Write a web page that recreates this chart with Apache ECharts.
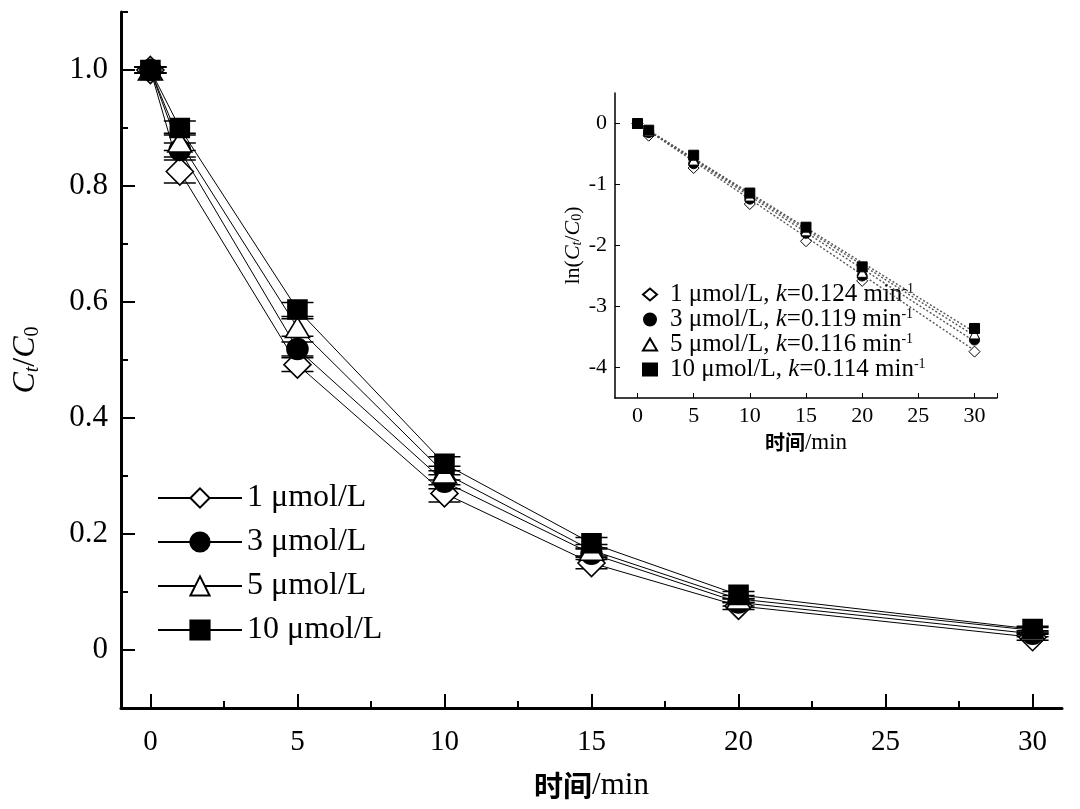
<!DOCTYPE html>
<html>
<head>
<meta charset="utf-8">
<script src="https://cdn.jsdelivr.net/npm/echarts@6/dist/echarts.min.js"></script>
<style>html,body{margin:0;padding:0;background:#fff}#c{width:1080px;height:809px}</style>
</head>
<body>
<div id="c"></div>
<script>
// ---- data ----
const times = [0, 1, 5, 10, 15, 20, 30];
const seriesNames = ['1 μmol/L', '3 μmol/L', '5 μmol/L', '10 μmol/L'];
const c1  = [1.0, 0.825, 0.492, 0.270, 0.150, 0.076, 0.022];
const c3  = [1.0, 0.862, 0.519, 0.290, 0.166, 0.082, 0.028];
const c5  = [1.0, 0.876, 0.556, 0.305, 0.172, 0.088, 0.034];
const c10 = [1.0, 0.900, 0.587, 0.321, 0.184, 0.095, 0.036];
const e1  = [0.005, 0.020, 0.012, 0.015, 0.010, 0.006, 0.005];
const e3  = [0.005, 0.012, 0.012, 0.012, 0.010, 0.006, 0.005];
const e5  = [0.005, 0.015, 0.015, 0.012, 0.010, 0.006, 0.005];
const e10 = [0.005, 0.012, 0.012, 0.012, 0.010, 0.006, 0.005];
// inset: ln(Ct/C0)
const ln1  = [0, -0.20, -0.73, -1.32, -1.93, -2.58, -3.74];
const ln3  = [0, -0.15, -0.66, -1.24, -1.80, -2.50, -3.55];
const ln5  = [0, -0.13, -0.60, -1.19, -1.76, -2.44, -3.45];
const ln10 = [0, -0.11, -0.52, -1.14, -1.70, -2.35, -3.36];
const fitX = [0, 30];
const fit1  = [0, -3.72];
const fit3  = [0, -3.57];
const fit5  = [0, -3.48];
const fit10 = [0, -3.42];
const kValues = ['0.124', '0.119', '0.116', '0.114'];
const concLabels = ['1 μmol/L', '3 μmol/L', '5 μmol/L', '10 μmol/L'];
// ticks
const xTicks = [0, 5, 10, 15, 20, 25, 30];
const xMinorTicks = [2.5, 7.5, 12.5, 17.5, 22.5, 27.5];
const yTicks = [0, 0.2, 0.4, 0.6, 0.8, 1.0];
const yMinorTicks = [0.1, 0.3, 0.5, 0.7, 0.9, 1.1];
const insetXTicks = [0, 5, 10, 15, 20, 25, 30, 32];
const insetXLabels = [0, 5, 10, 15, 20, 25, 30];
const insetYTicks = [0, -1, -2, -3, -4];

// ---- styling ----
const SERIF = 'Liberation Serif, Times New Roman, serif';
const CJK = 'Noto Sans CJK SC';
const markerDefs = [
  {symbol: 'diamond', size: [27, 27], fill: '#fff', isize: 11},
  {symbol: 'circle', size: 21, fill: '#000', isize: 10},
  {symbol: 'triangle', size: [24, 20], fill: '#fff', isize: 10},
  {symbol: 'rect', size: 19, fill: '#000', isize: 10}
];
const mainData = [c1, c3, c5, c10];
const errData = [e1, e3, e5, e10];
const lnData = [ln1, ln3, ln5, ln10];
const fitData = [fit1, fit3, fit5, fit10];

const series = [];
// error bars (main)
errData.forEach((errs, si) => {
  series.push({
    type: 'custom', xAxisIndex: 0, yAxisIndex: 0, silent: true, z: 3,
    data: times.map((t, i) => [t, mainData[si][i] - errs[i], mainData[si][i] + errs[i]]),
    renderItem: (params, api) => {
      const lo = api.coord([api.value(0), api.value(1)]);
      const hi = api.coord([api.value(0), api.value(2)]);
      const hw = 16;
      const st = {stroke: '#000', lineWidth: 1.5};
      return {type: 'group', children: [
        {type: 'line', shape: {x1: lo[0], y1: lo[1], x2: hi[0], y2: hi[1]}, style: st},
        {type: 'line', shape: {x1: lo[0] - hw, y1: lo[1], x2: lo[0] + hw, y2: lo[1]}, style: st},
        {type: 'line', shape: {x1: hi[0] - hw, y1: hi[1], x2: hi[0] + hw, y2: hi[1]}, style: st}
      ]};
    }
  });
});
// main lines
mainData.forEach((vals, si) => {
  const m = markerDefs[si];
  series.push({
    name: seriesNames[si], type: 'line', xAxisIndex: 0, yAxisIndex: 0, z: 4,
    data: times.map((t, i) => [t, vals[i]]),
    symbol: m.symbol, symbolSize: m.size, showAllSymbol: true,
    lineStyle: {color: '#000', width: 1},
    itemStyle: {color: m.fill, borderColor: '#000', borderWidth: 1.6, opacity: 1},
    emphasis: {disabled: true}
  });
});
// inset fit lines
fitData.forEach((vals, si) => {
  series.push({
    type: 'line', xAxisIndex: 2, yAxisIndex: 2, z: 5, silent: true,
    data: fitX.map((t, i) => [t, vals[i]]),
    symbol: 'none', lineStyle: {color: '#555', width: 1.4, type: [2, 2]}
  });
});
// inset points
lnData.forEach((vals, si) => {
  const m = markerDefs[si];
  series.push({
    name: 'inset' + si, type: 'scatter', xAxisIndex: 2, yAxisIndex: 2, z: 6,
    data: times.map((t, i) => [t, vals[i]]),
    symbol: m.symbol, symbolSize: m.isize,
    itemStyle: {color: m.fill, borderColor: '#000', borderWidth: 1, opacity: 1},
    emphasis: {disabled: true}
  });
});

const option = {
  backgroundColor: '#fff',
  animation: false,
  grid: [
    {left: 121, top: 12, right: 18, bottom: 101, containLabel: false},
    {left: 615, top: 93, right: 83, bottom: 411, containLabel: false}
  ],
  xAxis: [
    {
      type: 'value', gridIndex: 0, min: -1, max: 31, position: 'bottom',
      axisLine: {show: true, onZero: false, lineStyle: {color: '#000', width: 3}},
      axisTick: {show: true, inside: true, length: 14, customValues: xTicks, lineStyle: {color: '#000', width: 2}},
      axisLabel: {customValues: xTicks, color: '#000', fontFamily: SERIF, fontSize: 29, margin: 20},
      splitLine: {show: false},
      name: '{c|时间}{e|/min}', nameLocation: 'middle', nameGap: 62,
      nameTextStyle: {rich: {
        c: {fontFamily: CJK, fontWeight: 'bold', fontSize: 29, color: '#000'},
        e: {fontFamily: SERIF, fontSize: 31, color: '#000'}
      }}
    },
    {
      type: 'value', gridIndex: 0, min: -1, max: 31, position: 'bottom',
      axisLine: {show: false, onZero: false},
      axisTick: {show: true, inside: true, length: 7, customValues: xMinorTicks, lineStyle: {color: '#000', width: 2}},
      axisLabel: {show: false}, splitLine: {show: false}
    },
    {
      type: 'value', gridIndex: 1, min: -2, max: 32, position: 'bottom',
      axisLine: {show: true, onZero: false, lineStyle: {color: '#000', width: 1.5}},
      axisTick: {show: true, inside: true, length: 5, customValues: insetXTicks, lineStyle: {color: '#000', width: 1}},
      axisLabel: {customValues: insetXLabels, color: '#000', fontFamily: SERIF, fontSize: 22, margin: 7},
      splitLine: {show: false},
      name: '{c|时间}{e|/min}', nameLocation: 'middle', nameGap: 33,
      nameTextStyle: {rich: {
        c: {fontFamily: CJK, fontWeight: 'bold', fontSize: 20, color: '#000'},
        e: {fontFamily: SERIF, fontSize: 23, color: '#000'}
      }}
    }
  ],
  yAxis: [
    {
      type: 'value', gridIndex: 0, min: -0.1, max: 1.1, position: 'left',
      axisLine: {show: true, onZero: false, lineStyle: {color: '#000', width: 3}},
      axisTick: {show: true, inside: true, length: 14, customValues: yTicks, lineStyle: {color: '#000', width: 2}},
      axisLabel: {customValues: yTicks, color: '#000', fontFamily: SERIF, fontSize: 31, margin: 13,
        formatter: v => (v === 0 ? '0' : v.toFixed(1))},
      splitLine: {show: false},
      name: '{i|C}{s|t}{n|/}{i|C}{z|0}', nameLocation: 'middle', nameGap: 78, nameRotate: 90,
      nameTextStyle: {rich: {
        i: {fontFamily: SERIF, fontStyle: 'italic', fontSize: 32, color: '#000'},
        n: {fontFamily: SERIF, fontSize: 32, color: '#000'},
        s: {fontFamily: SERIF, fontStyle: 'italic', fontSize: 20, color: '#000', padding: [14, 0, 0, 0]},
        z: {fontFamily: SERIF, fontSize: 20, color: '#000', padding: [14, 0, 0, 0]}
      }}
    },
    {
      type: 'value', gridIndex: 0, min: -0.1, max: 1.1, position: 'left',
      axisLine: {show: false, onZero: false},
      axisTick: {show: true, inside: true, length: 7, customValues: yMinorTicks, lineStyle: {color: '#000', width: 2}},
      axisLabel: {show: false}, splitLine: {show: false}
    },
    {
      type: 'value', gridIndex: 1, min: -4.5, max: 0.5, position: 'left',
      axisLine: {show: true, onZero: false, lineStyle: {color: '#000', width: 1.5}},
      axisTick: {show: true, inside: true, length: 5, customValues: insetYTicks, lineStyle: {color: '#000', width: 1}},
      axisLabel: {customValues: insetYTicks, color: '#000', fontFamily: SERIF, fontSize: 22, margin: 8},
      splitLine: {show: false},
      name: '{n|ln(}{i|C}{s|t}{n|/}{i|C}{z|0}{n|)}', nameLocation: 'middle', nameGap: 30, nameRotate: 90,
      nameTextStyle: {rich: {
        i: {fontFamily: SERIF, fontStyle: 'italic', fontSize: 22, color: '#000'},
        n: {fontFamily: SERIF, fontSize: 22, color: '#000'},
        s: {fontFamily: SERIF, fontStyle: 'italic', fontSize: 14, color: '#000', padding: [9, 0, 0, 0]},
        z: {fontFamily: SERIF, fontSize: 14, color: '#000', padding: [9, 0, 0, 0]}
      }}
    }
  ],
  legend: [
    {
      orient: 'vertical', left: 152, top: 477, itemWidth: 84, itemHeight: 24, itemGap: 12,
      data: seriesNames, selectedMode: false,
      textStyle: {fontFamily: SERIF, fontSize: 32, color: '#000', padding: [0, 0, 0, 0]}
    },
    {
      orient: 'vertical', left: 637, top: 277, itemWidth: 14, itemHeight: 12, itemGap: 0,
      data: markerDefs.map((m, i) => ({name: 'inset' + i, icon: m.symbol})),
      selectedMode: false,
      formatter: name => {
        const i = +name.replace('inset', '');
        return '{a|' + concLabels[i] + ', }{k|k}{a|=' + kValues[i] + ' min}{p|-1}';
      },
      textStyle: {padding: [0, 0, 0, 8], rich: {
        a: {fontFamily: SERIF, fontSize: 25, color: '#000', lineHeight: 22},
        k: {fontFamily: SERIF, fontStyle: 'italic', fontSize: 25, color: '#000', lineHeight: 22},
        p: {fontFamily: SERIF, fontSize: 14, color: '#000', lineHeight: 22, padding: [0, 0, 10, 0]}
      }}
    }
  ],
  series: series
};
const chart = echarts.init(document.getElementById('c'), null, {renderer: 'canvas'});
chart.setOption(option);
</script>
</body>
</html>
